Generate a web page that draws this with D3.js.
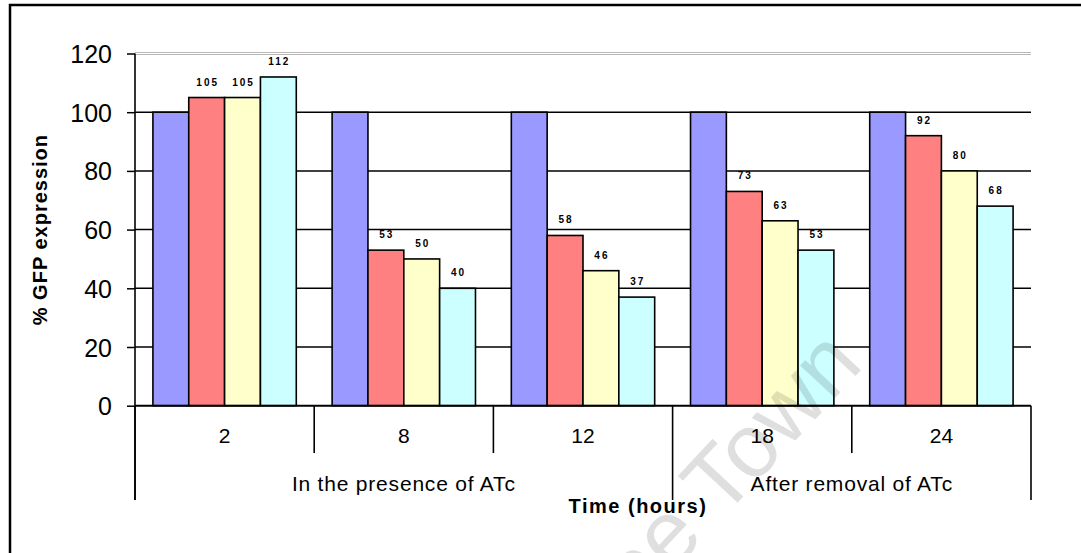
<!DOCTYPE html>
<head>
<meta charset="utf-8">
<title></title>
<style>
body { margin: 0; background: #fff; }
text { font-family: Arial, "Liberation Sans", sans-serif; fill: #000; }
.bar { stroke: #000; stroke-width: 1.6px; }
.grid line { stroke: #000; stroke-width: 1.5px; }
</style>
</head>
<body>
<script src="https://cdn.jsdelivr.net/npm/d3@7"></script>
<script>
// data
var times = ["2", "8", "12", "18", "24"];
var seriesNames = ["s1", "s2", "s3", "s4"];
var s1 = [100, 100, 100, 100, 100];
var s2 = [105, 53, 58, 73, 92];
var s3 = [105, 50, 46, 63, 80];
var s4 = [112, 40, 37, 53, 68];
var colors = ["#9999ff", "#ff8080", "#ffffcc", "#ccffff"];
var yTicks = [0, 20, 40, 60, 80, 100, 120];
var phases = [
  {label: "In the presence of ATc", first: "2", last: "12"},
  {label: "After removal of ATc", first: "18", last: "24"}
];

var width = 1081, height = 553;
var plotLeft = 135, plotRight = 1031, plotTop = 53.5, plotBottom = 405.7;

var svg = d3.select("body").append("svg")
    .attr("width", width)
    .attr("height", height);

// outer frame (right and bottom run off the page)
svg.append("rect")
    .attr("x", 10).attr("y", 5)
    .attr("width", 1200).attr("height", 700)
    .attr("fill", "none")
    .attr("stroke", "#000")
    .attr("stroke-width", 2.5);

var y = d3.scaleLinear().domain([0, 120]).range([plotBottom, plotTop]);
var x0 = d3.scaleBand().domain(times).range([plotLeft, plotRight]);
var x1 = d3.scaleBand().domain(seriesNames).range([0, x0.bandwidth()]).paddingOuter(0.5);

// gridlines
var grid = svg.append("g").attr("class", "grid");
grid.selectAll("line")
    .data(yTicks.filter(function(d) { return d > 0 && d < 120; }))
    .enter().append("line")
    .attr("x1", plotLeft).attr("x2", plotRight)
    .attr("y1", function(d) { return y(d); })
    .attr("y2", function(d) { return y(d); });

// top of plot area: thin grey double line
[-1, 1].forEach(function(o) {
  svg.append("line")
      .attr("x1", plotLeft).attr("x2", plotRight)
      .attr("y1", y(120) + o).attr("y2", y(120) + o)
      .attr("stroke", "#b8b8b8").attr("stroke-width", 1);
});

// bars
var rows = times.map(function(t, i) {
  return {time: t, values: [s1[i], s2[i], s3[i], s4[i]]};
});

var group = svg.append("g").selectAll("g")
    .data(rows)
    .enter().append("g")
    .attr("transform", function(d) { return "translate(" + x0(d.time) + ",0)"; });

function cells(d) {
  return d.values.map(function(v, j) { return {key: seriesNames[j], value: v, j: j}; });
}

group.selectAll("rect")
    .data(cells)
    .enter().append("rect")
    .attr("class", "bar")
    .attr("x", function(d) { return x1(d.key); })
    .attr("width", x1.bandwidth())
    .attr("y", function(d) { return y(d.value); })
    .attr("height", function(d) { return plotBottom - y(d.value); })
    .attr("fill", function(d) { return colors[d.j]; });

// value labels (not on the 100% reference series)
group.selectAll("text")
    .data(function(d) { return cells(d).filter(function(c) { return c.j > 0; }); })
    .enter().append("text")
    .attr("x", function(d) { return x1(d.key) + x1.bandwidth() / 2 + 1; })
    .attr("y", function(d) { return y(d.value) - 12; })
    .attr("text-anchor", "middle")
    .style("font-size", "10px")
    .style("font-weight", "bold")
    .style("letter-spacing", "2px")
    .text(function(d) { return d.value; });

// y axis
var yAxis = svg.append("g")
    .attr("transform", "translate(" + plotLeft + ",0)")
    .call(d3.axisLeft(y).tickValues(yTicks).tickSize(8).tickPadding(15));
yAxis.select(".domain").remove();
yAxis.selectAll(".tick line").attr("stroke", "#000").attr("stroke-width", 1.5);
yAxis.selectAll(".tick text")
    .style("font-family", "Arial, 'Liberation Sans', sans-serif")
    .style("font-size", "25px")
    .attr("dy", "0.36em");
svg.append("line")
    .attr("x1", plotLeft).attr("x2", plotLeft)
    .attr("y1", plotTop).attr("y2", 500)
    .attr("stroke", "#000").attr("stroke-width", 1.6);

// x axis line
svg.append("line")
    .attr("x1", plotLeft).attr("x2", plotRight)
    .attr("y1", plotBottom).attr("y2", plotBottom)
    .attr("stroke", "#000").attr("stroke-width", 2);

// category separators
var bounds = times.map(function(t) { return x0(t); }).concat([plotRight]);
var phaseEdges = [];
phases.forEach(function(p) {
  phaseEdges.push(x0(p.first));
  phaseEdges.push(x0(p.last) + x0.bandwidth());
});
svg.append("g").selectAll("line")
    .data(bounds)
    .enter().append("line")
    .attr("x1", function(d) { return d; })
    .attr("x2", function(d) { return d; })
    .attr("y1", plotBottom)
    .attr("y2", function(d) {
      return phaseEdges.some(function(e) { return Math.abs(e - d) < 0.5; }) ? 500 : 453;
    })
    .attr("stroke", "#000").attr("stroke-width", 1.6);

// time labels
svg.append("g").selectAll("text")
    .data(times)
    .enter().append("text")
    .attr("x", function(d) { return x0(d) + x0.bandwidth() / 2; })
    .attr("y", 443)
    .attr("text-anchor", "middle")
    .style("font-size", "21px")
    .text(function(d) { return d; });

// phase labels
svg.append("g").selectAll("text")
    .data(phases)
    .enter().append("text")
    .attr("x", function(d) { return (x0(d.first) + x0(d.last) + x0.bandwidth()) / 2; })
    .attr("y", 491)
    .attr("text-anchor", "middle")
    .style("font-size", "21px")
    .style("letter-spacing", "0.8px")
    .text(function(d) { return d.label; });

// axis titles
svg.append("text")
    .attr("x", 638)
    .attr("y", 513)
    .attr("text-anchor", "middle")
    .style("font-size", "20px")
    .style("font-weight", "bold")
    .style("letter-spacing", "1.5px")
    .text("Time (hours)");

svg.append("text")
    .attr("transform", "translate(47," + ((plotTop + plotBottom) / 2) + ") rotate(-90)")
    .attr("text-anchor", "middle")
    .style("font-size", "20px")
    .style("font-weight", "bold")
    .style("letter-spacing", "1px")
    .text("% GFP expression");

// faint watermark
svg.append("text")
    .attr("transform", "translate(865,366) rotate(-47)")
    .attr("text-anchor", "end")
    .style("font-size", "90px")
    .style("fill", "#000")
    .style("opacity", 0.12)
    .text("University of Cape Town");
</script>
</body>
